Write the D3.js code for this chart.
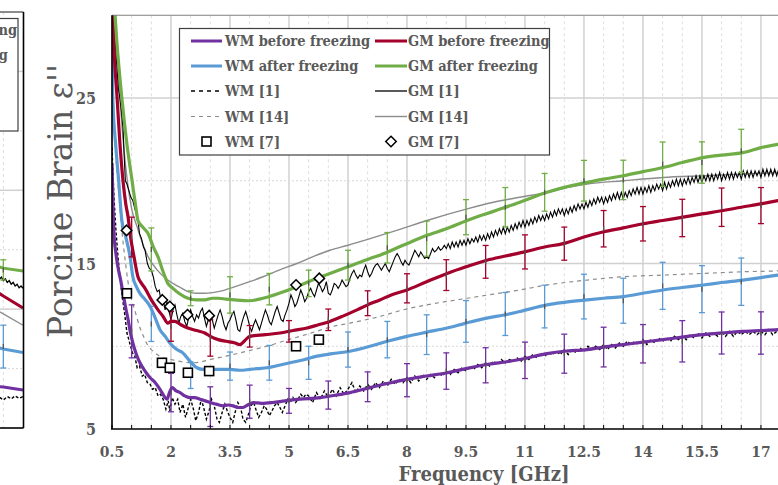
<!DOCTYPE html>
<html><head><meta charset="utf-8">
<script src="https://cdn.jsdelivr.net/npm/d3@7"></script>
<style>
body{margin:0;background:#fff;}
svg{display:block;}
.lbl{font-family:'DejaVu Serif Condensed','DejaVu Serif',serif;font-stretch:condensed;font-weight:bold;fill:#595959;}
</style></head><body>
<svg id="c" width="778" height="485"></svg>
<script>
// ---------------- DATA ----------------
const xTicks = [0.5,2,3.5,5,6.5,8,9.5,11,12.5,14,15.5,17];
const yTicks = [5,15,25];
const legendLeft = ["WM before freezing","WM after freezing","WM [1]","WM [14]","WM [7]"];
const legendRight = ["GM before freezing","GM after freezing","GM [1]","GM [14]","GM [7]"];

const wmBefore = [[0.5,21],[0.52,19],[0.55,16.8],[0.6,15.6],[0.65,14.8],[0.72,14.0],[0.78,13.2],[0.85,12.3],[0.91,11.6],[0.97,10.8],[1.03,10.2],[1.12,9.5],[1.21,9.0],[1.34,8.5],[1.47,8.1],[1.6,7.8],[1.72,7.4],[1.82,7.0],[1.9,6.8],[1.96,7.2],[2.03,7.5],[2.13,7.3],[2.23,7.2],[2.35,7.0],[2.48,6.9],[2.6,6.9],[2.74,6.8],[2.87,6.7],[2.99,6.6],[3.15,6.5],[3.32,6.4],[3.45,6.45],[3.58,6.4],[3.7,6.3],[3.83,6.3],[3.95,6.45],[4.09,6.6],[4.3,6.55],[4.59,6.6],[4.9,6.7],[5.28,6.8],[5.79,6.9],[6.2,7.05],[6.55,7.2],[7.06,7.5],[7.5,7.75],[8.0,8.0],[8.5,8.2],[9.02,8.4],[9.5,8.65],[10.03,8.9],[10.5,9.05],[10.87,9.2],[11.56,9.55],[12.0,9.7],[12.58,9.8],[13.0,9.95],[13.5,10.1],[14.0,10.25],[14.51,10.4],[15.0,10.55],[15.53,10.7],[16.0,10.8],[16.54,10.9],[17.0,10.95],[17.43,11.0],[18,11.1]];

const gmBefore = [[0.5,30.5],[0.56,27.5],[0.63,25],[0.7,22.3],[0.78,20],[0.85,18.6],[0.91,17.8],[0.96,16.8],[1.06,15.4],[1.16,14.2],[1.25,13.8],[1.34,13.5],[1.5,12.8],[1.67,12.2],[1.8,11.8],[1.92,11.4],[2.0,11.5],[2.1,11.5],[2.25,11.3],[2.43,11.1],[2.65,10.95],[2.86,10.8],[3.0,10.6],[3.2,10.4],[3.4,10.3],[3.63,10.2],[3.75,10.1],[3.88,10.35],[4.0,10.6],[4.4,10.7],[4.77,10.8],[5.1,10.95],[5.46,11.1],[5.75,11.3],[6.04,11.5],[6.4,11.85],[6.73,12.2],[7.0,12.5],[7.31,12.8],[7.6,13.1],[8.0,13.4],[8.5,13.9],[9.02,14.4],[9.5,14.8],[10.03,15.2],[10.5,15.45],[10.99,15.7],[11.5,16.0],[11.97,16.2],[12.5,16.6],[12.98,16.9],[13.5,17.15],[14.0,17.4],[14.5,17.6],[15.02,17.8],[15.5,18.0],[16.04,18.2],[16.5,18.4],[17.0,18.6],[17.43,18.8],[18,19.0]];

const wmAfter = [[0.5,28.2],[0.52,25],[0.6,22],[0.67,20],[0.75,17.6],[0.83,16.8],[0.96,15.4],[1.03,14.2],[1.12,13.6],[1.21,13.2],[1.35,12.8],[1.47,12.4],[1.6,11.7],[1.72,11.0],[1.85,10.6],[1.97,10.2],[2.15,9.8],[2.3,9.6],[2.48,9.1],[2.66,8.7],[2.82,8.6],[2.99,8.6],[3.25,8.6],[3.5,8.6],[3.75,8.55],[4.0,8.6],[4.2,8.65],[4.44,8.7],[4.75,8.85],[5.03,9.0],[5.4,9.2],[5.71,9.4],[6.1,9.55],[6.55,9.7],[7.06,10.0],[7.5,10.3],[8.0,10.6],[8.5,10.85],[9.02,11.1],[9.5,11.4],[10.03,11.7],[10.5,11.9],[10.87,12.1],[11.56,12.5],[12.0,12.65],[12.58,12.8],[13.0,12.9],[13.5,13.0],[14.0,13.2],[14.51,13.4],[15.0,13.55],[15.53,13.7],[16.0,13.85],[16.54,14.0],[17.0,14.15],[17.43,14.3],[18,14.5]];

const gmAfter = [[0.55,31],[0.62,28.5],[0.75,25],[0.88,22.2],[1.01,20],[1.1,18.5],[1.16,17.6],[1.28,17.2],[1.42,16.8],[1.55,16.0],[1.67,15.4],[1.8,14.5],[1.92,13.8],[2.05,13.5],[2.2,13.2],[2.43,12.9],[2.65,12.8],[2.86,12.8],[3.05,12.9],[3.2,12.9],[3.4,12.85],[3.63,12.8],[4.0,12.75],[4.34,12.9],[4.75,13.2],[5.2,13.6],[5.6,14.0],[6.04,14.4],[6.5,14.8],[7.06,15.3],[7.31,15.5],[7.9,16.1],[8.51,16.7],[9.0,17.1],[9.53,17.6],[10.2,18.15],[10.87,18.7],[11.56,19.3],[12.0,19.6],[12.58,19.9],[13.0,20.1],[13.5,20.3],[14.0,20.55],[14.51,20.8],[15.0,21.1],[15.53,21.4],[16.0,21.55],[16.54,21.7],[17.0,22.0],[17.43,22.2],[18,22.5]];

const gm14 = [[0.5,33],[0.6,28.5],[0.7,25],[0.8,22],[0.9,19.8],[1.0,18.3],[1.14,17.2],[1.28,16.2],[1.42,15.4],[1.65,14.6],[1.92,14.0],[2.2,13.6],[2.43,13.3],[2.65,13.2],[2.86,13.2],[3.2,13.3],[3.63,13.6],[4.0,13.9],[4.34,14.2],[4.75,14.6],[5.2,15.0],[5.6,15.4],[6.04,15.8],[6.5,16.1],[7.06,16.5],[7.8,17.05],[8.51,17.6],[9.53,18.3],[10.2,18.7],[10.87,19.0],[11.56,19.3],[12.1,19.6],[12.58,19.8],[13.5,20.0],[14.51,20.2],[15.53,20.3],[16.54,20.4],[17.43,20.5],[18,20.55]];

const wm14 = [[0.5,27],[0.55,24],[0.6,21.5],[0.68,19],[0.75,17],[0.83,15.3],[0.9,14],[1.0,12.8],[1.1,12],[1.2,11.2],[1.3,10.6],[1.4,10.1],[1.5,9.8],[1.65,9.5],[1.8,9.3],[2.0,9.2],[2.2,9.1],[2.5,9.0],[2.75,9.05],[3.0,9.2],[3.4,9.4],[3.75,9.6],[4.1,9.8],[4.44,10.0],[4.85,10.3],[5.28,10.6],[5.7,10.9],[6.12,11.2],[6.55,11.4],[7.31,11.8],[7.9,12.2],[8.51,12.5],[9.53,12.9],[10.2,13.15],[10.87,13.4],[11.56,13.7],[12.58,14.0],[13.5,14.2],[14.51,14.3],[15.53,14.4],[16.54,14.5],[17.43,14.55],[18,14.6]];

// GM [1] measured (noisy): explicit low-frequency points, then uniform 0.05 GHz samples
const gm1Low = [[0.5,31],[0.56,29],[0.62,27],[0.66,25.6],[0.7,25],[0.74,24.2],[0.78,23.2],[0.81,21.5],[0.84,20],[0.88,19.8],[0.93,19.4],[0.98,19.0],[1.03,18.8],[1.08,18.3],[1.12,18.0],[1.16,17.6],[1.2,16.8],[1.25,16.5],[1.3,16.0],[1.34,15.8],[1.4,15.0],[1.45,14.7],[1.5,14.6],[1.55,14.2],[1.6,13.6],[1.65,13.3],[1.7,13.4],[1.75,12.7],[1.8,12.9],[1.85,12.2],[1.9,12.7],[1.95,12.1]];
const gm1Start = 2.0, gm1Step = 0.05;
const gm1Vals = [
 11.6,12.2,12.5,11.9,11.4,11.8,12.0,11.5,11.2,11.7,
 12.2,11.8,11.5,11.9,11.7,12.1,12.3,11.7,11.2,11.6,
 12.0,11.6,11.1,11.5,11.9,12.2,11.8,11.3,11.0,11.4,
 11.6,11.9,12.1,11.6,11.0,10.9,11.4,11.8,12.1,11.7,
 11.2,10.9,11.3,11.6,11.3,11.0,11.4,11.8,12.2,11.9,
 11.5,11.3,11.7,12.1,12.4,12.0,11.6,11.5,11.9,12.2,
 12.6,13.1,12.8,12.4,12.6,13.0,13.4,13.1,12.7,12.9,
 13.3,13.5,13.2,13.0,13.4,13.8,13.6,13.3,13.5,13.9,
 13.2,13.1,13.4,13.8,13.7,13.5,13.7,14.0,13.8,13.6,
 13.7,14.1,14.4,14.6,14.3,14.1,14.3,14.2,14.6,14.9,
 14.5,14.2,14.4,14.7,14.9,15.0,14.8,14.6,14.8,15.0,
 14.7,14.5,14.8,15.1,15.4,15.6,15.4,15.1,14.9,15.2,
 15.0,14.9,15.2,15.5,15.8,15.6,15.4,15.7,15.5,15.3,
 15.4,15.3,15.6,15.9,15.7,15.8,16.0,15.8,15.9,16.1,
 15.9,16.2,15.9,16.3,16.0,16.3,16.0,16.4,16.1,16.4,
 16.1,16.5,16.2,16.5,16.3,16.6,16.3,16.7,16.4,16.7,
 16.4,16.8,16.5,16.9,16.6,17.0,16.7,17.1,16.8,17.2,
 16.8,17.2,16.9,17.3,17.0,17.4,17.1,17.5,17.2,17.6,
 17.2,17.6,17.3,17.7,17.4,17.8,17.5,17.9,17.6,17.9,
 17.6,18.0,17.7,18.1,17.8,18.2,17.9,18.3,18.0,18.3,
 17.9,18.3,18.0,18.4,18.1,18.5,18.2,18.6,18.3,18.6,
 18.3,18.7,18.4,18.8,18.5,18.9,18.6,19.0,18.7,19.0,
 18.6,19.0,18.7,19.1,18.8,19.2,18.9,19.3,18.9,19.3,
 18.9,19.3,19.0,19.4,19.1,19.5,19.2,19.6,19.2,19.6,
 19.2,19.6,19.3,19.7,19.3,19.7,19.4,19.8,19.5,19.8,
 19.4,19.9,19.5,19.9,19.6,20.0,19.7,20.1,19.7,20.1,
 19.7,20.1,19.8,20.2,19.8,20.2,19.9,20.3,19.9,20.3,
 19.9,20.3,20.0,20.4,20.0,20.4,20.0,20.4,20.1,20.5,
 20.0,20.4,20.1,20.5,20.1,20.5,20.1,20.5,20.2,20.5,
 20.1,20.6,20.2,20.6,20.2,20.6,20.2,20.6,20.3,20.6,
 20.2,20.7,20.3,20.7,20.3,20.7,20.3,20.7,20.3,20.7,
 20.4,20.8,20.4,20.8,20.4,20.8,20.4,20.8,20.5,20.8,
 20.6];

// WM [1] measured (noisy, dashed)
const wm1Low = [[0.5,22],[0.55,19],[0.6,17],[0.65,15.5],[0.7,14.2],[0.76,13],[0.82,12],[0.88,10.8],[0.95,10.2],[1.02,9.6],[1.08,9.4],[1.14,8.7],[1.2,8.8],[1.27,8.2],[1.33,8.3],[1.4,7.8],[1.47,7.7],[1.53,7.4],[1.6,7.5],[1.67,7.0],[1.73,7.1],[1.8,6.8],[1.87,6.2],[1.93,6.7],[1.97,6.1],[2.03,6.9],[2.1,6.5],[2.17,6.8],[2.23,6.0],[2.3,6.5],[2.37,5.7],[2.43,6.2],[2.5,6.8],[2.57,6.2],[2.63,5.5],[2.7,6.0],[2.77,6.8],[2.83,6.3],[2.9,5.6],[2.97,6.1],[3.03,6.8],[3.1,6.4],[3.17,5.6],[3.23,5.4],[3.3,6.0],[3.37,6.5],[3.43,6.1],[3.5,5.7],[3.57,5.4],[3.63,6.0],[3.7,6.6],[3.77,6.3],[3.83,5.6],[3.9,5.4],[3.97,5.9],[4.03,6.4],[4.1,6.6],[4.17,6.1],[4.23,5.7],[4.3,6.0],[4.37,6.4],[4.43,6.2],[4.5,5.8],[4.57,6.1],[4.63,6.4],[4.7,6.6],[4.77,6.3],[4.83,6.0],[4.9,6.4],[4.97,6.8],[5.03,6.6],[5.1,6.9],[5.17,6.6],[5.23,6.8],[5.3,7.1],[5.37,6.9],[5.43,7.1]];
const wm1Start = 5.5, wm1Step = 0.1;
const wm1Vals = [
 7.0,6.6,7.2,6.8,7.3,
 6.9,7.4,7.0,7.5,7.1,7.4,7.8,7.2,7.6,7.3,
 7.7,7.4,7.8,7.5,7.9,7.6,8.0,7.7,8.0,7.8,
 8.1,7.8,8.2,7.9,8.3,8.0,8.3,8.1,8.4,8.2,
 8.5,8.3,8.6,8.4,8.7,8.5,8.8,8.6,8.9,8.7,
 9.0,8.8,9.1,8.9,9.2,9.0,9.2,9.1,9.3,9.1,
 9.4,9.2,9.5,9.3,9.6,9.4,9.6,9.5,9.7,9.5,
 9.8,9.5,9.8,9.6,9.9,9.7,10.0,9.8,10.0,9.8,
 10.1,9.8,10.1,9.9,10.2,10.0,10.3,10.1,10.3,10.1,
 10.4,10.1,10.4,10.2,10.5,10.3,10.5,10.3,10.6,10.4,
 10.6,10.4,10.7,10.5,10.8,10.5,10.8,10.6,10.8,10.6,
 10.9,10.6,10.9,10.6,10.9,10.7,10.9,10.7,10.9,10.7,
 10.9,10.7,11.0,10.7,10.9,10.7,11.0,10.8,11.0,10.8,
 10.9];

const wm7 = [[0.88,13.2],[1.77,9.0],[1.97,8.7],[2.43,8.4],[2.97,8.5],[5.18,10.0],[5.76,10.4]];
const gm7 = [[0.87,17.0],[1.78,12.8],[1.97,12.4],[2.42,11.9],[2.97,11.85],[5.18,13.7],[5.77,14.1]];

// error bars: before freezing at integer GHz, after freezing at half-integer GHz
const errBeforeFreq = [1,2,3,4,5,6,7,8,9,10,11,12,13,14,15,16,17];
const gmBeforeErrMid  = [16.6,11.2,10.5,10.6,10.9,11.6,12.6,13.5,14.3,15.1,15.7,16.2,17.1,17.4,17.75,18.4,18.5];
const gmBeforeErrHalf = [1.2,0.9,1.1,0.65,0.65,0.65,0.75,0.88,0.93,0.99,1.03,1.0,1.1,1.04,1.13,1.16,1.09];
const wmBeforeErrMid  = [10.9,7.2,6.35,6.65,6.7,7.05,7.55,7.95,8.5,8.85,9.15,9.55,9.95,10.15,10.3,10.8,10.8];
const wmBeforeErrHalf = [1.6,1.16,1.2,1.0,0.75,0.85,0.9,1.0,1.1,1.06,1.1,1.18,1.2,1.16,1.25,1.27,1.28];
const errAfterFreq = [1.5,2.5,3.5,4.5,5.5,6.5,7.5,8.5,9.5,10.5,11.5,12.5,13.5,14.5,15.5,16.5];
const gmAfterErrMid  = [15.85,12.9,13.1,13.45,13.8,14.9,15.95,16.5,17.8,18.4,19.3,20.0,20.05,21.0,21.1,21.8];
const gmAfterErrHalf = [1.3,0.45,1.1,0.95,0.8,0.9,0.92,1.06,1.06,1.19,1.14,1.23,1.19,1.34,1.25,1.31];
const wmAfterErrMid  = [11.35,8.25,8.8,9.0,9.0,9.8,10.4,10.7,11.5,11.95,12.4,13.0,12.75,13.65,13.45,13.9];
const wmAfterErrHalf = [1.06,0.8,0.85,1.05,1.0,1.06,1.1,1.2,1.26,1.3,1.29,1.35,1.36,1.42,1.42,1.43];

// left neighbouring panel (only its right edge is visible)
const lpGmAfter  = [[17.0,27.9],[17.5,26.9],[18.0,26.4]];
const lpGm1      = [[17.0,25.9],[17.05,26.2],[17.1,25.6],[17.15,26.0],[17.2,25.4],[17.25,25.8],[17.3,25.2],[17.35,25.6],[17.4,25.0],[17.45,25.4],[17.5,24.8],[17.55,25.1],[17.6,24.5],[17.65,24.8],[17.7,24.2],[17.75,24.5],[17.8,23.9],[17.85,24.2],[17.9,23.6],[17.95,23.9],[18.0,23.5]];
const lpGmBefore = [[17.0,24.4],[17.5,22.2],[18.0,20.2]];
const lpGm14     = [[17.0,21.0],[17.5,19.2],[18.0,17.3]];
const lpWmAfter  = [[17.0,14.1],[17.5,13.3],[18.0,12.7]];
const lpWmBefore = [[17.0,7.2],[17.5,6.9],[18.0,6.4]];
const lpWm1      = [[17.0,5.3],[17.1,4.8],[17.2,5.4],[17.3,4.9],[17.4,5.2],[17.5,4.7],[17.6,5.3],[17.7,4.9],[17.8,5.4],[17.9,5.0],[18.0,5.3]];
const lpErrFreq = [17.5, 17.5];
const lpErrMid  = [26.6, 13.7];
const lpErrHalf = [1.7, 3.6];
const lpLegend = ["GM before freezing","GM after freezing"];

// ---------------- DRAWING ----------------
const C = {wmB:"#7030a0", gmB:"#a3002b", wmA:"#5b9bd5", gmA:"#70ad47", gray:"#8c8c8c", grid:"#d9d9d9"};
const svg = d3.select("#c");
const x = d3.scaleLinear().domain([0.5,18]).range([112, 112+17.5*39.33]);
const y = d3.scaleLinear().domain([5,30]).range([429, 15.25]);

svg.append("defs").append("clipPath").attr("id","pc")
  .append("rect").attr("x",112).attr("y",15).attr("width",700).attr("height",414);

const grid = svg.append("g");
const minorX = d3.range(0.5, 18.01, 0.5);
grid.selectAll(".vx").data(minorX).join("line")
  .attr("x1",d=>x(d)).attr("x2",d=>x(d)).attr("y1",y(30)).attr("y2",y(5))
  .attr("stroke",d=>xTicks.includes(d)?"#d4d4d4":"#dedede")
  .attr("stroke-width",d=>xTicks.includes(d)?1.6:1)
  .attr("stroke-dasharray",d=>xTicks.includes(d)?null:"3,3");
const hY = [10,15,20,25];
grid.selectAll(".hy").data(hY).join("line")
  .attr("x1",x(0.5)).attr("x2",778).attr("y1",d=>y(d)).attr("y2",d=>y(d))
  .attr("stroke",d=>yTicks.includes(d)?"#d0d0d0":"#d8d8d8")
  .attr("stroke-width",d=>yTicks.includes(d)?1.6:1)
  .attr("stroke-dasharray",d=>yTicks.includes(d)?null:"2,2");

const plot = svg.append("g").attr("clip-path","url(#pc)");
const lineS = d3.line().x(d=>x(d[0])).y(d=>y(d[1])).curve(d3.curveMonotoneX);
const lineL = d3.line().x(d=>x(d[0])).y(d=>y(d[1]));

const gm1 = gm1Low.concat(gm1Vals.map((v,i)=>[gm1Start+i*gm1Step, v]));
const wm1 = wm1Low.concat(wm1Vals.map((v,i)=>[wm1Start+i*wm1Step, v]));

plot.append("path").datum(gm14).attr("d",lineS).attr("fill","none").attr("stroke",C.gray).attr("stroke-width",1.4);
plot.append("path").datum(wm14).attr("d",lineS).attr("fill","none").attr("stroke",C.gray).attr("stroke-width",1.2).attr("stroke-dasharray","4,4");
plot.append("path").datum(gm1).attr("d",lineL).attr("fill","none").attr("stroke","#000").attr("stroke-width",1.1);
plot.append("path").datum(wm1).attr("d",lineL).attr("fill","none").attr("stroke","#000").attr("stroke-width",1.4).attr("stroke-dasharray","3,2");

const series = [[wmBefore,C.wmB],[wmAfter,C.wmA],[gmBefore,C.gmB],[gmAfter,C.gmA]];
series.forEach(([d,c])=>{
  plot.append("path").datum(d).attr("d",lineS).attr("fill","none").attr("stroke",c).attr("stroke-width",3.2);
});

function errBars(g, xs, mids, halfs, color, xsc, ysc){
  const data = xs.map((f,i)=>({f, m:mids[i], h:halfs[i]}));
  const gg = g.append("g").attr("stroke",color).attr("stroke-width",1.3);
  gg.selectAll(".v").data(data).join("line")
    .attr("x1",d=>xsc(d.f)).attr("x2",d=>xsc(d.f)).attr("y1",d=>ysc(d.m-d.h)).attr("y2",d=>ysc(d.m+d.h));
  gg.selectAll(".t").data(data).join("line")
    .attr("x1",d=>xsc(d.f)-3).attr("x2",d=>xsc(d.f)+3).attr("y1",d=>ysc(d.m+d.h)).attr("y2",d=>ysc(d.m+d.h));
  gg.selectAll(".b").data(data).join("line")
    .attr("x1",d=>xsc(d.f)-3).attr("x2",d=>xsc(d.f)+3).attr("y1",d=>ysc(d.m-d.h)).attr("y2",d=>ysc(d.m-d.h));
  g.append("g").attr("stroke","#555").attr("stroke-width",1.3).selectAll("line").data(data).join("line")
    .attr("x1",d=>xsc(d.f)).attr("x2",d=>xsc(d.f)).attr("y1",d=>ysc(d.m)-2.5).attr("y2",d=>ysc(d.m)+2.5);
}
errBars(plot, errBeforeFreq, gmBeforeErrMid, gmBeforeErrHalf, C.gmB, x, y);
errBars(plot, errBeforeFreq, wmBeforeErrMid, wmBeforeErrHalf, C.wmB, x, y);
errBars(plot, errAfterFreq, gmAfterErrMid, gmAfterErrHalf, C.gmA, x, y);
errBars(plot, errAfterFreq, wmAfterErrMid, wmAfterErrHalf, C.wmA, x, y);

plot.selectAll(".sq").data(wm7).join("rect")
  .attr("x",d=>x(d[0])-4.5).attr("y",d=>y(d[1])-4.5).attr("width",9).attr("height",9)
  .attr("fill","#fff").attr("stroke","#000").attr("stroke-width",1.6);
const diamond = d3.symbol().type(d3.symbolDiamond2).size(70);
plot.selectAll(".dm").data(gm7).join("path")
  .attr("d",diamond).attr("transform",d=>`translate(${x(d[0])},${y(d[1])})`)
  .attr("fill","#fff").attr("stroke","#000").attr("stroke-width",1.5);

// axes frame
svg.append("line").attr("x1",x(0.5)).attr("x2",778).attr("y1",y(30)).attr("y2",y(30)).attr("stroke","#808080").attr("stroke-width",1.2);
svg.append("line").attr("x1",x(0.5)).attr("x2",x(0.5)).attr("y1",y(30)).attr("y2",y(5)).attr("stroke","#000").attr("stroke-width",1.6);
svg.append("line").attr("x1",x(0.5)-1).attr("x2",778).attr("y1",y(5)).attr("y2",y(5)).attr("stroke","#000").attr("stroke-width",1.6);
svg.append("g").selectAll("line").data(minorX).join("line")
  .attr("x1",d=>x(d)).attr("x2",d=>x(d)).attr("y1",y(5)).attr("y2",y(5)-4).attr("stroke","#000").attr("stroke-width",1);

// tick labels
svg.append("g").selectAll("text").data(xTicks).join("text").attr("class","lbl")
  .attr("x",d=>x(d)).attr("y",457).attr("text-anchor","middle").attr("font-size",15.5).text(d=>d);
svg.append("g").selectAll("text").data(yTicks).join("text").attr("class","lbl")
  .attr("x",96).attr("y",d=>y(d)+6).attr("text-anchor","end").attr("font-size",16).text(d=>d);

// axis titles
svg.append("text").attr("class","lbl").attr("x",484).attr("y",480.5).attr("text-anchor","middle")
  .attr("font-size",20).text("Frequency [GHz]");
svg.append("text").attr("transform","translate(72,201) rotate(-90)").attr("text-anchor","middle")
  .style("font-family","'DejaVu Serif',serif")
  .attr("font-size",33).attr("fill","#595959").text("Porcine Brain  ε''");

// legend
const lg = svg.append("g");
lg.append("rect").attr("x",179.5).attr("y",28.5).attr("width",370).attr("height",126.5)
  .attr("fill","#fff").attr("stroke","#404040").attr("stroke-width",1.2);
const rowY = [41,66,91,116.5,141.5];
const leftStyles = [
  {c:C.wmB,w:3},{c:C.wmA,w:3},{c:"#000",w:1.5,da:"4,4"},{c:C.gray,w:1.2,da:"4,4"},{m:"sq"}];
const rightStyles = [
  {c:C.gmB,w:3},{c:C.gmA,w:3},{c:"#000",w:1.3},{c:C.gray,w:1.4},{m:"dm"}];
function legendCol(names, styles, x0, x1, tx){
  names.forEach((n,i)=>{
    const s = styles[i], yy = rowY[i];
    if(s.m==="sq"){
      lg.append("rect").attr("x",(x0+x1)/2-4.5).attr("y",yy-4.5).attr("width",9).attr("height",9)
        .attr("fill","#fff").attr("stroke","#000").attr("stroke-width",1.6);
    } else if(s.m==="dm"){
      lg.append("path").attr("d",diamond).attr("transform",`translate(${(x0+x1)/2},${yy})`)
        .attr("fill","#fff").attr("stroke","#000").attr("stroke-width",1.5);
    } else {
      lg.append("line").attr("x1",x0).attr("x2",x1).attr("y1",yy).attr("y2",yy)
        .attr("stroke",s.c).attr("stroke-width",s.w).attr("stroke-dasharray",s.da||null);
    }
    lg.append("text").attr("class","lbl").attr("x",tx).attr("y",yy+5).attr("font-size",14.5).text(n);
  });
}
legendCol(legendLeft, leftStyles, 191, 222, 225);
legendCol(legendRight, rightStyles, 375, 407, 408);

// ---------- left neighbouring panel ----------
const lx = d3.scaleLinear().domain([0.5,18]).range([23-17.5*39.33, 23]);
const ly = d3.scaleLinear().domain([0,70]).range([428,12]);
const lp = svg.append("g");
lp.append("defs").append("clipPath").attr("id","lc").append("rect").attr("x",0).attr("y",12).attr("width",23).attr("height",416);
lp.selectAll(".lh").data([10,20,30,40,50,60]).join("line")
  .attr("x1",0).attr("x2",23).attr("y1",d=>ly(d)).attr("y2",d=>ly(d))
  .attr("stroke",d=>d%20===0?"#d0d0d0":"#d8d8d8").attr("stroke-width",d=>d%20===0?1.5:1)
  .attr("stroke-dasharray",d=>d%20===0?null:"2,2");
lp.append("line").attr("x1",lx(17.5)).attr("x2",lx(17.5)).attr("y1",12).attr("y2",428)
  .attr("stroke","#dedede").attr("stroke-dasharray","3,3");
const lpl = lp.append("g").attr("clip-path","url(#lc)");
const lLine = d3.line().x(d=>lx(d[0])).y(d=>ly(d[1]));
[[lpGm14,C.gray,1.3],[lpGm1,"#000",1.3],[lpGmAfter,C.gmA,3],[lpGmBefore,C.gmB,3],[lpWmAfter,C.wmA,3],[lpWmBefore,C.wmB,3]].forEach(([d,c,w])=>{
  lpl.append("path").datum(d).attr("d",lLine).attr("fill","none").attr("stroke",c).attr("stroke-width",w);
});
lpl.append("path").datum(lpWm1).attr("d",lLine).attr("fill","none").attr("stroke","#000").attr("stroke-width",1.4).attr("stroke-dasharray","3,2");
errBars(lpl, [lpErrFreq[0]], [lpErrMid[0]], [lpErrHalf[0]], C.gmA, lx, ly);
errBars(lpl, [lpErrFreq[1]], [lpErrMid[1]], [lpErrHalf[1]], C.wmA, lx, ly);
lpl.append("rect").attr("x",-20).attr("y",18.5).attr("width",38).attr("height",112.5)
  .attr("fill","#fff").attr("stroke","#404040").attr("stroke-width",1.2);
lpl.append("text").attr("class","lbl").attr("x",17).attr("y",35).attr("text-anchor","end").attr("font-size",14.5).text(lpLegend[0]);
lpl.append("text").attr("class","lbl").attr("x",8).attr("y",60).attr("text-anchor","end").attr("font-size",14.5).text(lpLegend[1]);
lp.append("line").attr("x1",0).attr("x2",23.5).attr("y1",12).attr("y2",12).attr("stroke","#404040").attr("stroke-width",1.2);
lp.append("line").attr("x1",23.5).attr("x2",23.5).attr("y1",12).attr("y2",428).attr("stroke","#000").attr("stroke-width",1.6);
lp.append("line").attr("x1",0).attr("x2",23.5).attr("y1",428).attr("y2",428).attr("stroke","#000").attr("stroke-width",1.6);
</script></body></html>
